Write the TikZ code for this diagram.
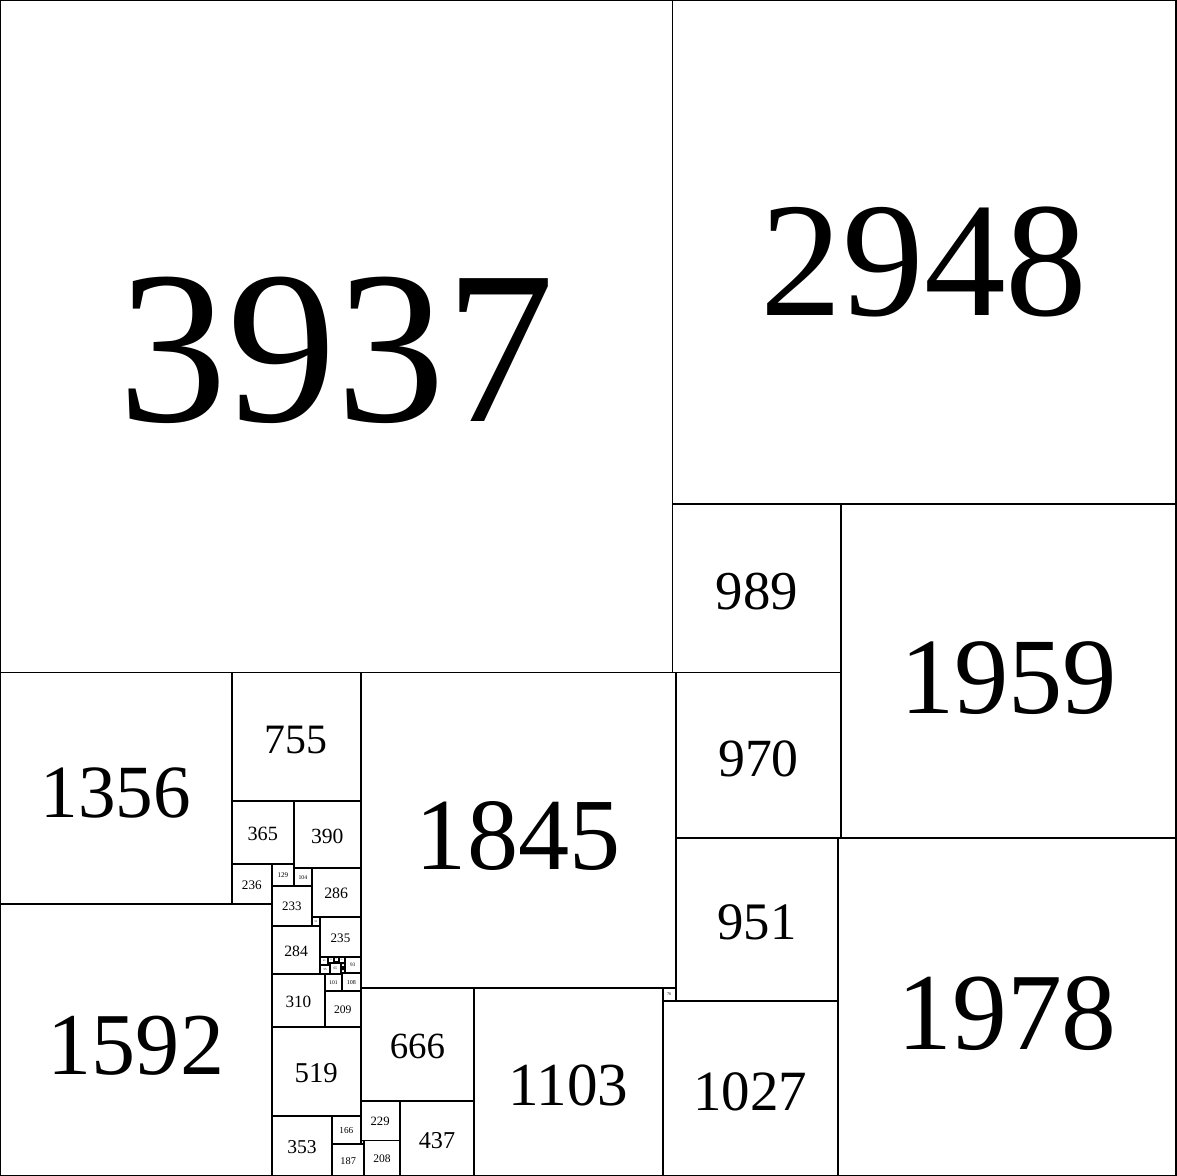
\documentclass[tikz,border=0pt]{standalone}
\usepackage{fontspec}
\setmainfont{Liberation Serif}

\begin{document}
\begin{tikzpicture}[x=0.005cm, y=-0.005cm,
    sq/.style={draw, line width=1.6pt, inner sep=0pt, outer sep=0pt, text depth=0pt}]
  \useasboundingbox (0,0) rectangle (6885,6885);
  \foreach \x/\y/\s [count=\i] in {
      0/0/3937, 3937/0/2948, 3937/2948/989, 4926/2948/1959,
      3956/3937/970, 3956/4907/951, 4907/4907/1978, 3880/5858/1027,
      3880/5782/76, 2777/5782/1103, 2111/3937/1845, 0/3937/1356,
      0/5293/1592, 1356/3937/755, 1356/4692/365, 1721/4692/390,
      1356/5057/236, 1592/5057/129, 1721/5082/104, 1825/5082/286,
      1592/5186/233, 1825/5368/51, 1876/5368/235, 1592/5419/284,
      2018/5603/93, 1902/5703/101, 2003/5696/108, 1902/5804/209,
      1592/5703/310, 1592/6013/519, 2111/5782/666, 1592/6532/353,
      1945/6532/166, 1945/6698/187, 2111/6677/21, 2132/6677/208,
      2111/6448/229, 2340/6448/437,
      1876/5603/45, 1876/5648/55, 1921/5638/10, 1921/5603/35,
      1931/5638/65, 1996/5696/7, 1996/5674/22, 2004/5660/14,
      1996/5666/8, 1998/5660/6, 1996/5664/2, 1996/5662/2,
      1996/5660/2, 1996/5638/22, 1983/5603/35, 1956/5603/27,
      1956/5630/8, 1964/5630/8, 1972/5630/8, 1980/5630/3,
      1980/5633/3, 1980/5636/2, 1982/5636/1, 1982/5637/1} {
    \pgfmathsetmacro{\fs}{0.0462*\s}
    \pgfmathsetmacro{\th}{0.78*\fs}
    \node[sq, minimum size=\s*0.005cm, text height=\th pt,
          font=\fontsize{\fs pt}{\fs pt}\selectfont]
      (sq\i) at (\x+\s/2, \y+\s/2) {\s};
  }
\end{tikzpicture}
\end{document}
